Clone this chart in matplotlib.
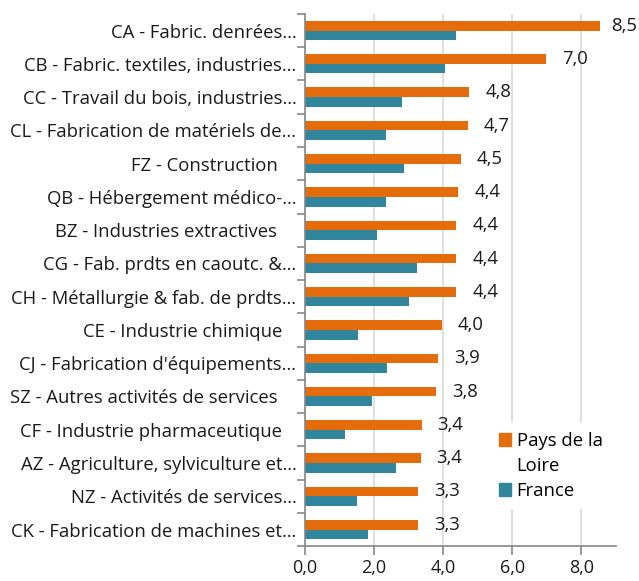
import numpy as np
import matplotlib.pyplot as plt
from matplotlib.patches import Patch
from matplotlib.ticker import FuncFormatter

# categories from top to bottom
categories = [
    "CA - Fabric. denrées…",
    "CB - Fabric. textiles, industries…",
    "CC - Travail du bois, industries…",
    "CL - Fabrication de matériels de…",
    "FZ - Construction    ",
    "QB - Hébergement médico-…",
    "BZ - Industries extractives    ",
    "CG - Fab. prdts en caoutc. &…",
    "CH - Métallurgie & fab. de prdts…",
    "CE - Industrie chimique   ",
    "CJ - Fabrication d'équipements…",
    "SZ - Autres activités de services    ",
    "CF - Industrie pharmaceutique   ",
    "AZ - Agriculture, sylviculture et…",
    "NZ - Activités de services…",
    "CK - Fabrication de machines et…",
]
pays_de_la_loire = [8.53, 6.99, 4.76, 4.72, 4.52, 4.44, 4.38, 4.38, 4.38,
                    3.97, 3.86, 3.79, 3.38, 3.35, 3.28, 3.27]
france = [4.36, 4.05, 2.82, 2.35, 2.88, 2.36, 2.08, 3.25, 3.02,
          1.55, 2.39, 1.94, 1.17, 2.63, 1.50, 1.84]

orange = '#E46C0A'
teal = '#31859C'
grey = '#868686'

plt.rcParams['font.family'] = ['Open Sans', 'DejaVu Sans']

fig = plt.figure(figsize=(6.39, 5.81), dpi=100)
ax = fig.add_axes([0.477, 0.060, 0.487, 0.916])

n = len(categories)
y = np.arange(n)
h = 0.29
ax.barh(y - h / 2, pays_de_la_loire, height=h, color=orange, zorder=3)
ax.barh(y + h / 2, france, height=h, color=teal, zorder=3)

# value labels, kept inside the plot like Excel does
for yi, v in zip(y, pays_de_la_loire):
    ax.text(min(v + 0.46, 8.87), yi - h / 2, f"{v:.1f}".replace('.', ','), va='center', ha='left',
            fontsize=13.3, color='#1a1a1a')

ax.set_ylim(n - 0.5, -0.5)
ax.set_xlim(0, 9)
ax.set_yticks(y)
ax.set_yticklabels(categories, fontsize=13.3, color='#1a1a1a')
ax.set_yticks(np.arange(n + 1) - 0.5, minor=True)
ax.tick_params(axis='y', which='major', length=0, pad=6)
ax.tick_params(axis='y', which='minor', length=6, color=grey, width=1.2)

ax.set_xticks([0, 2, 4, 6, 8])
ax.xaxis.set_major_formatter(FuncFormatter(lambda v, p: f"{v:.1f}".replace('.', ',')))
ax.tick_params(axis='x', length=6.5, color=grey, width=1.2, labelsize=13, pad=3, labelcolor='#1a1a1a')

ax.grid(axis='x', color='#d9d9d9', linewidth=1.2, zorder=0)
for s in ['top', 'right']:
    ax.spines[s].set_visible(False)
for s in ['left', 'bottom']:
    ax.spines[s].set_color(grey)
    ax.spines[s].set_linewidth(1.2)
    ax.spines[s].set_zorder(4)

# legend: the wrapped "Pays de la / Loire" label keeps its marker on the first line
handles = [Patch(color=orange), Patch(color='none'), Patch(color=teal)]
labels = ['Pays de la', 'Loire', 'France']
leg = ax.legend(handles, labels, loc='upper left', bbox_to_anchor=(0.595, 0.232), frameon=True,
                fontsize=13.3, handlelength=0.65, handleheight=0.65, handletextpad=0.3,
                labelspacing=0.38, borderpad=0.5, borderaxespad=0, fancybox=False)
leg.get_frame().set_edgecolor('none')
leg.get_frame().set_facecolor('white')
leg.get_frame().set_alpha(1)
leg.set_zorder(5)

fig.savefig('out.png', dpi=100)
